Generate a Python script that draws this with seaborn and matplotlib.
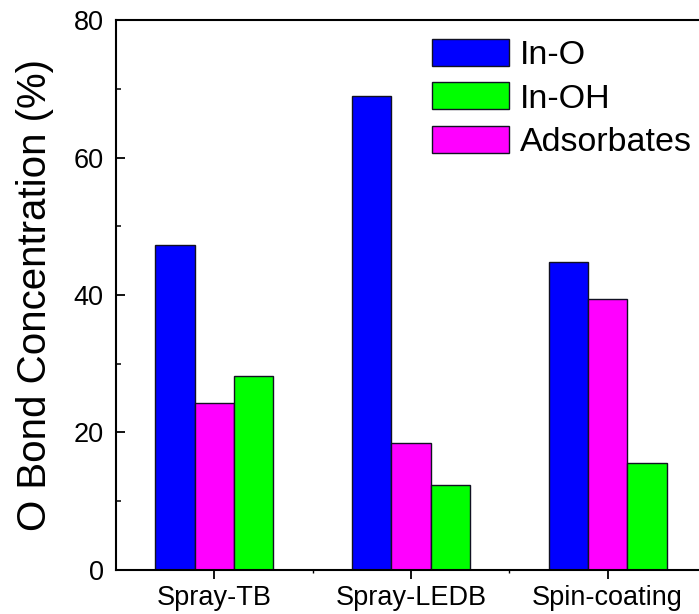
import matplotlib
matplotlib.use("Agg")
import matplotlib.pyplot as plt
from matplotlib.ticker import MultipleLocator, FixedLocator
import seaborn as sns
import pandas as pd

# O 1s peak fractions for each deposition method
samples = ["Spray-TB", "Spray-LEDB", "Spin-coating"]
in_o = [47.3, 68.9, 44.8]
adsorbates = [24.3, 18.5, 39.4]
in_oh = [28.2, 12.4, 15.5]

bond_order = ["In-O", "Adsorbates", "In-OH"]
legend_order = ["In-O", "In-OH", "Adsorbates"]
colors = {"In-O": "#0000FF", "In-OH": "#00FF00", "Adsorbates": "#FF00FF"}

rows = []
for name, vals in (("In-O", in_o), ("Adsorbates", adsorbates), ("In-OH", in_oh)):
    for s, v in zip(samples, vals):
        rows.append({"Sample": s, "Bond": name, "Value": v})
df = pd.DataFrame(rows)

sns.set_theme(style="ticks")
plt.rcParams["font.family"] = ["Liberation Sans", "DejaVu Sans"]
plt.rcParams["text.color"] = "black"
plt.rcParams["axes.labelcolor"] = "black"

fig = plt.figure(figsize=(6.99, 6.14), dpi=100)
ax = fig.add_axes([0.166, 0.0717, 0.844, 0.8957])

sns.barplot(data=df, x="Sample", y="Value", hue="Bond", order=samples,
            hue_order=bond_order, palette=colors, width=0.6, gap=0,
            edgecolor="#111122", linewidth=1.0, saturation=1, ax=ax)

ax.set_xlim(-0.5, 2.5)
ax.set_ylim(0, 80)
ax.yaxis.set_major_locator(MultipleLocator(20))
ax.yaxis.set_minor_locator(MultipleLocator(10))
ax.xaxis.set_minor_locator(FixedLocator([0.5, 1.5]))

for side in ("left", "bottom", "top", "right"):
    ax.spines[side].set_linewidth(1.5)
    ax.spines[side].set_color("black")

ax.tick_params(axis="y", which="major", direction="in", length=6.5, width=1.3,
               labelsize=19.5, pad=9, colors="black")
ax.tick_params(axis="y", which="minor", direction="in", length=3.5, width=1.1,
               colors="black")
ax.tick_params(axis="x", which="major", direction="out", length=6.5, width=1.3,
               labelsize=19.5, pad=4, colors="black")
ax.tick_params(axis="x", which="minor", direction="out", length=2, width=1.0,
               colors="black")

ax.set_xlabel("")
ax.set_ylabel("O Bond Concentration (%)", fontsize=29, labelpad=14,
              color="black")

handles, labels = ax.get_legend_handles_labels()
lookup = dict(zip(labels, handles))
leg = ax.legend([lookup[k] for k in legend_order], legend_order,
                loc="upper left", bbox_to_anchor=(0.536, 0.966), frameon=False,
                fontsize=24.5, handlelength=2.25, handleheight=0.85,
                handletextpad=0.33, labelspacing=0.33, borderaxespad=0,
                borderpad=0)
for t in leg.get_texts():
    t.set_color("black")

fig.savefig("out.png", dpi=100)
